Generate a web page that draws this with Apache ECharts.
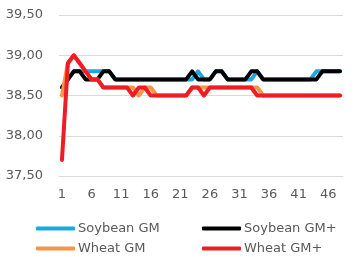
<!DOCTYPE html>
<html>
<head>
<meta charset="utf-8">
<script src="https://cdn.jsdelivr.net/npm/echarts@6/dist/echarts.min.js"></script>
<style>html,body{margin:0;padding:0;background:#fff}#c{width:355px;height:257px}</style>
</head>
<body>
<div id="c"></div>
<script>
var categories = [];
for (var k = 1; k <= 48; k++) categories.push(String(k));

var seriesNames = ['Soybean GM', 'Soybean GM+', 'Wheat GM', 'Wheat GM+'];

var soybeanGM = [38.6,38.7,38.8,38.8,38.8,38.8,38.8,38.8,38.8,38.7,
  38.7,38.7,38.7,38.7,38.7,38.7,38.7,38.7,38.7,38.7,
  38.7,38.7,38.7,38.8,38.7,38.7,38.8,38.8,38.7,38.7,
  38.7,38.7,38.7,38.8,38.7,38.7,38.7,38.7,38.7,38.7,
  38.7,38.7,38.7,38.8,38.8,38.8,38.8,38.8];

var soybeanGMplus = [38.6,38.7,38.8,38.8,38.7,38.7,38.7,38.8,38.8,38.7,
  38.7,38.7,38.7,38.7,38.7,38.7,38.7,38.7,38.7,38.7,
  38.7,38.7,38.8,38.7,38.7,38.7,38.8,38.8,38.7,38.7,
  38.7,38.7,38.8,38.8,38.7,38.7,38.7,38.7,38.7,38.7,
  38.7,38.7,38.7,38.7,38.8,38.8,38.8,38.8];

var wheatGM = [38.5,38.9,39.0,38.9,38.8,38.7,38.7,38.6,38.6,38.6,
  38.6,38.6,38.6,38.5,38.6,38.6,38.5,38.5,38.5,38.5,
  38.5,38.5,38.6,38.6,38.6,38.6,38.6,38.6,38.6,38.6,
  38.6,38.6,38.6,38.6,38.5,38.5,38.5,38.5,38.5,38.5,
  38.5,38.5,38.5,38.5,38.5,38.5,38.5,38.5];

var wheatGMplus = [37.7,38.9,39.0,38.9,38.8,38.7,38.7,38.6,38.6,38.6,
  38.6,38.6,38.5,38.6,38.6,38.5,38.5,38.5,38.5,38.5,
  38.5,38.5,38.6,38.6,38.5,38.6,38.6,38.6,38.6,38.6,
  38.6,38.6,38.6,38.5,38.5,38.5,38.5,38.5,38.5,38.5,
  38.5,38.5,38.5,38.5,38.5,38.5,38.5,38.5];

var colors = ['#1EA6E0', '#000000', '#F79646', '#EE1C25'];
var dataSets = [soybeanGM, soybeanGMplus, wheatGM, wheatGMplus];

var font = 'DejaVu Sans';
var textColor = '#595959';

var legendPos = [
  {left: 36, top: 222},
  {left: 202, top: 222},
  {left: 36, top: 242},
  {left: 202, top: 242}
];

var chart = echarts.init(document.getElementById('c'), null, {renderer: 'canvas'});
chart.setOption({
  animation: false,
  color: colors,
  grid: {left: 59, right: 12, top: 15, bottom: 81, containLabel: false},
  legend: seriesNames.map(function (n, i) {
    return {
      data: [n], left: legendPos[i].left, top: legendPos[i].top, padding: 0,
      itemWidth: 39, itemHeight: 4, icon: 'roundRect', itemGap: 0,
      selectedMode: false,
      textStyle: {fontFamily: font, fontSize: 13, color: textColor, padding: [0,0,0,-2]}
    };
  }),
  xAxis: {
    type: 'category', data: categories, boundaryGap: true,
    axisLine: {show: true, lineStyle: {color: '#D9D9D9'}},
    axisTick: {show: false},
    axisLabel: {interval: 4, margin: 12, fontFamily: font, fontSize: 13, color: textColor}
  },
  yAxis: {
    type: 'value', min: 37.5, max: 39.5, interval: 0.5,
    axisLine: {show: false}, axisTick: {show: false},
    splitLine: {lineStyle: {color: '#D9D9D9', width: 1}},
    axisLabel: {margin: 16, fontFamily: font, fontSize: 13, color: textColor,
      formatter: function (v) { return v.toFixed(2).replace('.', ','); }}
  },
  series: seriesNames.map(function (n, i) {
    return {
      name: n, type: 'line', data: dataSets[i], showSymbol: false, symbol: 'none',
      lineStyle: {width: 4, color: colors[i], cap: 'round', join: 'round'},
      itemStyle: {color: colors[i]}
    };
  })
});
</script>
</body>
</html>
